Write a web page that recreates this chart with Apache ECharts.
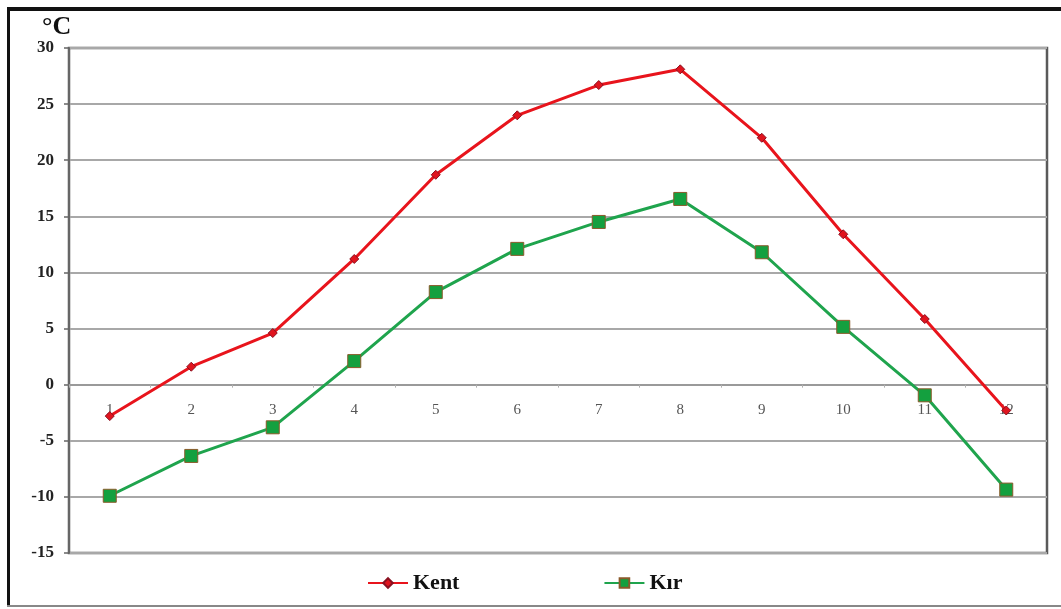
<!DOCTYPE html>
<html>
<head>
<meta charset="utf-8">
<script src="https://cdn.jsdelivr.net/npm/echarts@6/dist/echarts.min.js"></script>
<style>
html,body{margin:0;padding:0;background:#fff;}
#chart{width:1061px;height:609px;}
</style>
</head>
<body>
<div id="chart"></div>
<script>
const months = ['1','2','3','4','5','6','7','8','9','10','11','12'];
const kent = [-2.8, 1.6, 4.6, 11.2, 18.7, 24.0, 26.7, 28.1, 22.0, 13.4, 5.85, -2.3];
const kir = [-9.9, -6.35, -3.8, 2.1, 8.25, 12.1, 14.5, 16.55, 11.8, 5.15, -0.95, -9.35];
const yTicks = {min: -15, max: 30, step: 5};

const chart = echarts.init(document.getElementById('chart'), null, {renderer: 'canvas'});
const serif = '"Liberation Serif", "DejaVu Serif", serif';
chart.setOption({
  animation: false,
  backgroundColor: '#ffffff',
  grid: {left: 69, right: 14, top: 48, bottom: 56, containLabel: false,
         show: true, borderColor: '#5a5a5a', borderWidth: 2.5, backgroundColor: 'transparent'},
  legend: {
    left: 362, top: 567,
    itemWidth: 40, itemHeight: 12, itemGap: 144,
    textStyle: {fontFamily: serif, fontWeight: 'bold', fontSize: 22, color: '#111'},
    data: ['Kent', 'Kır']
  },
  xAxis: [{
    type: 'category', data: months, boundaryGap: true, position: 'bottom',
    axisLine: {show: true, onZero: true, lineStyle: {color: '#9a9a9a', width: 2}},
    axisTick: {show: true, length: 3, lineStyle: {color: '#b0b0b0'}},
    axisLabel: {show: false},
    splitLine: {show: false}
  }, {
    type: 'category', data: months, boundaryGap: true, position: 'bottom', offset: -168,
    axisLine: {show: false, onZero: false},
    axisTick: {show: false},
    axisLabel: {margin: 18, fontFamily: serif, fontSize: 15, color: '#555'},
    splitLine: {show: false}
  }],
  yAxis: {
    type: 'value', min: yTicks.min, max: yTicks.max, interval: yTicks.step,
    axisLine: {show: true, lineStyle: {color: '#666', width: 2}},
    axisTick: {show: true, length: 5, lineStyle: {color: '#666', width: 1.5}},
    axisLabel: {margin: 15, fontFamily: serif, fontWeight: 'bold', fontSize: 17, color: '#222'},
    splitLine: {show: true, lineStyle: {color: '#a8a8a8', width: 2}}
  },
  series: [{
    name: 'Kent', type: 'line', data: kent,
    symbol: 'diamond', symbolSize: 9,
    lineStyle: {color: '#e8141c', width: 3},
    itemStyle: {color: '#e0141e', borderColor: '#8a1020', borderWidth: 1},
    z: 3
  }, {
    name: 'Kır', type: 'line', data: kir,
    symbol: 'rect', symbolSize: 13,
    lineStyle: {color: '#1fa44d', width: 3},
    itemStyle: {color: '#14a03f', borderColor: '#8a5a2a', borderWidth: 1},
    z: 2
  }],
  graphic: [
    {type: 'text', left: 42, top: 14, style: {text: '°C', fontFamily: serif, fontWeight: 'bold', fontSize: 26, fill: '#111'}},
    {type: 'rect', shape: {x: 7, y: 7, width: 1060, height: 4}, style: {fill: '#111'}},
    {type: 'rect', shape: {x: 7, y: 7, width: 3, height: 600}, style: {fill: '#111'}},
    {type: 'rect', shape: {x: 7, y: 605, width: 1060, height: 2}, style: {fill: '#888'}}
  ]
});
</script>
</body>
</html>
